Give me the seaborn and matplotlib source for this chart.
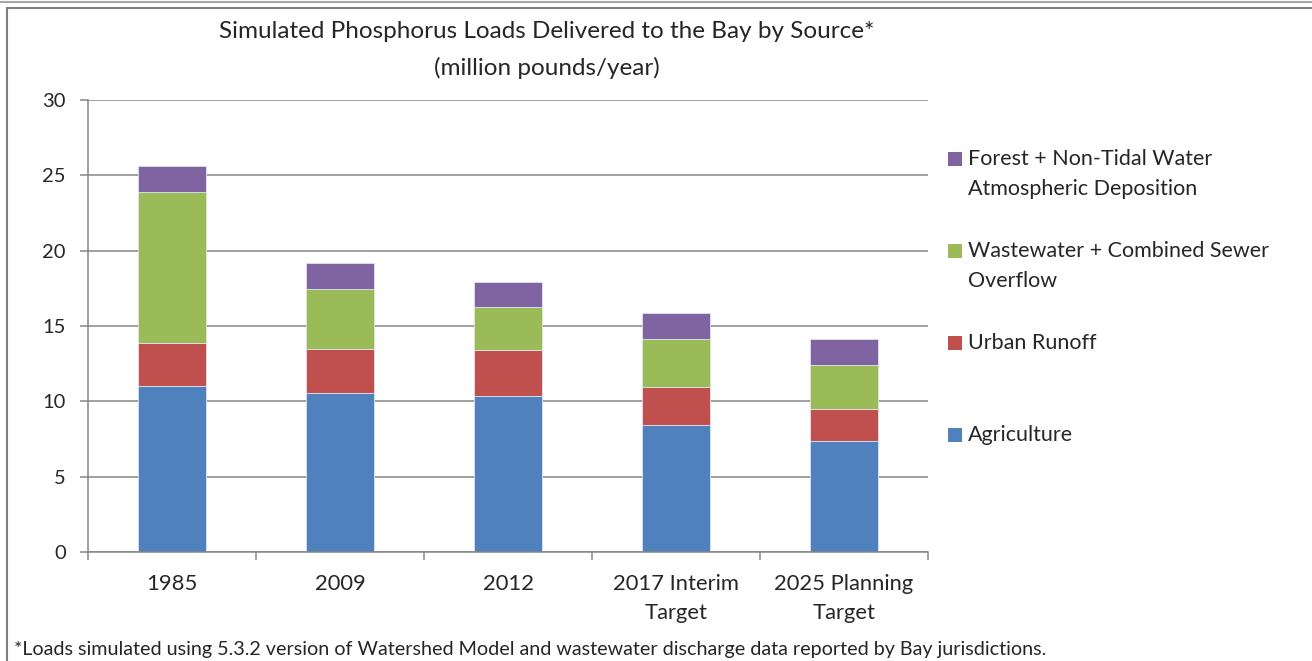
import numpy as np
import pandas as pd
import matplotlib as mpl
import matplotlib.pyplot as plt
from matplotlib.patches import Rectangle
import seaborn as sns

# DATA (million pounds/year)
years = ["1985", "2009", "2012", "2017 Interim\nTarget", "2025 Planning\nTarget"]
agriculture = [11.0, 10.53, 10.33, 8.41, 7.39]
urban = [2.89, 2.94, 3.08, 2.52, 2.08]
wastewater = [9.98, 4.01, 2.88, 3.23, 2.97]
forest = [1.77, 1.68, 1.63, 1.73, 1.72]

sources = ["Agriculture", "Urban Runoff",
           "Wastewater + Combined Sewer\nOverflow",
           "Forest + Non-Tidal Water\nAtmospheric Deposition"]
colors = ["#4F81BD", "#C0504D", "#9BBB59", "#8064A2"]
grid_col = "#868686"

sns.set_style("white")
plt.rcParams['font.family'] = ['Lato', 'DejaVu Sans']

W, H = 1312, 661
fig = plt.figure(figsize=(W / 100, H / 100), dpi=100)
ax = fig.add_axes([88 / W, 1 - 552 / H, 840 / W, 452 / H])

bottom = np.zeros(len(years))
for name, vals, c in zip(sources, [agriculture, urban, wastewater, forest], colors):
    df = pd.DataFrame({"year": years, "load": vals})
    sns.barplot(data=df, x="year", y="load", color=c, saturation=1,
                bottom=bottom.copy(), width=0.4, edgecolor="#dde4ee",
                linewidth=0.6, ax=ax)
    bottom += np.array(vals)

ax.set_xlim(-0.5, 4.5)
ax.set_ylim(0, 30)
ax.set_yticks(range(0, 31, 5))
ax.set_xlabel("")
ax.set_ylabel("")
ax.yaxis.grid(True, color=grid_col, lw=1.1)
ax.set_axisbelow(True)
for s in ["top", "right"]:
    ax.spines[s].set_visible(False)
for s in ["left", "bottom"]:
    ax.spines[s].set_color(grid_col)
    ax.spines[s].set_linewidth(1.1)

ax.tick_params(axis="y", left=True, length=6, width=1.1, color=grid_col,
               labelsize=14.5, pad=10)
ax.set_xticks(np.arange(-0.5, 5, 1), minor=True)
ax.tick_params(axis="x", which="minor", bottom=True, length=6, width=1.1,
               color=grid_col)
ax.tick_params(axis="x", which="major", length=0, labelsize=15.8, pad=16)
for lbl in ax.get_xticklabels():
    lbl.set_linespacing(1.55)
    lbl.set_verticalalignment("top")

# legend, top entry first, square next to the first text line
leg_y = [435, 343, 251, 159]
for name, c, y in zip(sources, colors, leg_y):
    fig.add_artist(Rectangle((948 / W, 1 - (y + 7) / H), 14 / W, 14 / H,
                             transform=fig.transFigure, facecolor=c, edgecolor="none"))
    for i, line in enumerate(name.split("\n")):
        fig.text(968 / W, 1 - (y + 30 * i) / H, line, ha="left", va="center",
                 fontsize=15.5)

fig.text(547 / W, 1 - 32 / H, "Simulated Phosphorus Loads Delivered to the Bay by Source*",
         ha="center", va="center", fontsize=17.5)
fig.text(547 / W, 1 - 68 / H, "(million pounds/year)",
         ha="center", va="center", fontsize=17.5)
fig.text(14 / W, 1 - 650 / H,
         "*Loads simulated using 5.3.2 version of Watershed Model and wastewater discharge data reported by Bay jurisdictions.",
         ha="left", va="center", fontsize=14.2)

# frame around the chart
fig.add_artist(plt.Line2D([0, 1], [1 - 2 / H, 1 - 2 / H], transform=fig.transFigure, color="#a6a6a6", lw=1.5))
fig.add_artist(plt.Line2D([7 / W, 1], [1 - 8 / H, 1 - 8 / H], transform=fig.transFigure, color="#808080", lw=1.5))
fig.add_artist(plt.Line2D([7 / W, 7 / W], [1 - 8 / H, 0], transform=fig.transFigure, color="#808080", lw=1.5))

fig.savefig("out.png", dpi=100)
plt.close()
